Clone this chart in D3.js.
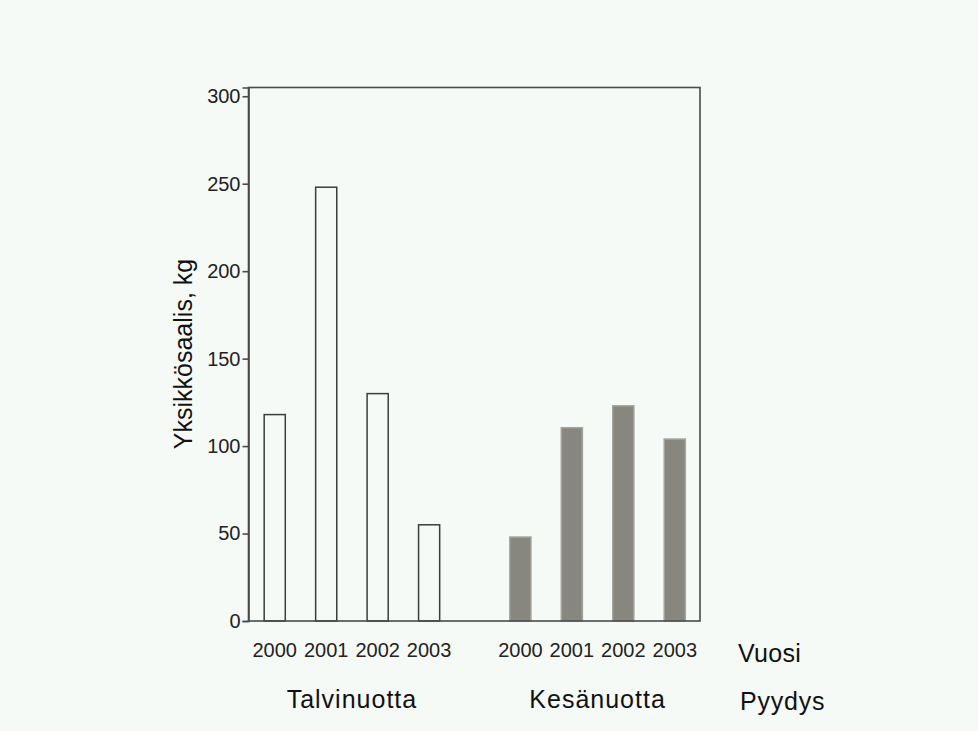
<!DOCTYPE html>
<html><head><meta charset="utf-8">
<script src="https://cdn.jsdelivr.net/npm/d3@7"></script>
<style>
html,body{margin:0;padding:0;background:#f6faf7;}
svg{display:block;font-family:"Liberation Sans",Arial,sans-serif;}
</style></head>
<body>
<svg id="c" width="978" height="731"></svg>
<script>
const groups = ["Talvinuotta", "Kesänuotta"];
const years = ["2000", "2001", "2002", "2003"];
const talvinuotta = [118, 248, 130, 55];
const kesanuotta = [48, 110.5, 123, 104];
const yTicks = [0, 50, 100, 150, 200, 250, 300];
const yLabel = "Yksikkösaalis, kg";
const xLabel = "Vuosi";
const groupLabel = "Pyydys";

const seriesByGroup = {"Talvinuotta": talvinuotta, "Kesänuotta": kesanuotta};
const fills = {"Talvinuotta": "#f6faf7", "Kesänuotta": "#878780"};
const strokes = {"Talvinuotta": "#3c3c3c", "Kesänuotta": "#a3a39c"};

const L = 248.5, R = 700, T = 87.5, B = 621;
const svg = d3.select("#c");
svg.append("rect").attr("width", 978).attr("height", 731).attr("fill", "#f6faf7");

const x0 = d3.scaleBand().domain(groups).range([L, R]).paddingInner(0.162).paddingOuter(0);
const x1 = d3.scaleBand().domain(years).range([0, x0.bandwidth()]).paddingInner(0.59).paddingOuter(0.295);
const y = d3.scaleLinear().domain([0, 305]).range([B, T]);

const data = [];
groups.forEach(g => years.forEach((yr, i) => data.push({g, yr, v: seriesByGroup[g][i]})));

// bars
svg.append("g").selectAll("rect").data(data).join("rect")
  .attr("x", d => x0(d.g) + x1(d.yr) + 0.5)
  .attr("y", d => y(d.v))
  .attr("width", x1.bandwidth())
  .attr("height", d => y(0) - y(d.v))
  .attr("fill", d => fills[d.g])
  .attr("stroke", d => strokes[d.g])
  .attr("stroke-width", 1.5);

// frame
svg.append("rect").attr("x", L).attr("y", T).attr("width", R - L).attr("height", B - T)
  .attr("fill", "none").attr("stroke", "#4a4a4a").attr("stroke-width", 1.6);

// y axis
const yAxis = d3.axisLeft(y).tickValues(yTicks).tickSize(6).tickPadding(2);
const ya = svg.append("g").attr("transform", `translate(${L},0)`).call(yAxis);
ya.select(".domain").attr("stroke", "#4a4a4a").attr("stroke-width", 1.6);
ya.selectAll(".tick line").attr("stroke", "#4a4a4a").attr("stroke-width", 1.6);
ya.selectAll(".tick text").attr("font-size", 20).attr("fill", "#222")
  .attr("font-family", "Liberation Sans, Arial, sans-serif");

// year labels
groups.forEach(g => {
  const xa = d3.axisBottom(x1).tickSize(0).tickPadding(0);
  const gx = svg.append("g").attr("transform", `translate(${x0(g) + 0.5},${B})`).call(xa);
  gx.select(".domain").remove();
  gx.selectAll(".tick text").attr("font-size", 20).attr("fill", "#222")
    .attr("font-family", "Liberation Sans, Arial, sans-serif")
    .attr("dy", null).attr("y", 36);
  svg.append("text").attr("x", x0(g) + x0.bandwidth() / 2 + 0.5).attr("y", 708)
    .attr("text-anchor", "middle").attr("font-size", 25).attr("letter-spacing", 1)
    .attr("fill", "#111").text(g);
});

svg.append("text").attr("x", 738).attr("y", 662).attr("font-size", 25)
  .attr("letter-spacing", 0.3).attr("fill", "#111").text(xLabel);
svg.append("text").attr("x", 740).attr("y", 710).attr("font-size", 25)
  .attr("letter-spacing", 0.8).attr("fill", "#111").text(groupLabel);

svg.append("text").attr("transform", `translate(192,354) rotate(-90)`)
  .attr("text-anchor", "middle").attr("font-size", 25).attr("fill", "#111").text(yLabel);
</script>
</body></html>
